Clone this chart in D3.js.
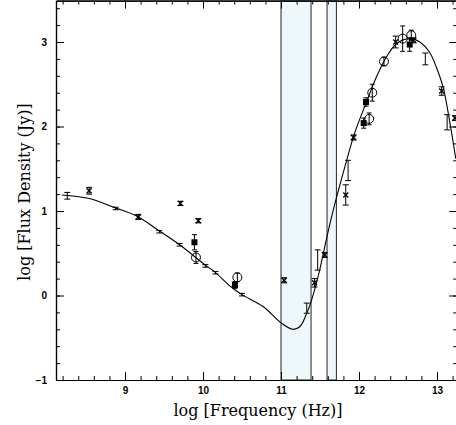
<!DOCTYPE html>
<html>
<head>
<meta charset="utf-8">
<script src="https://d3js.org/d3.v7.min.js"></script>
<style>
body { margin: 0; background: white; }
svg { display: block; }
.tick text { font-family: "Liberation Sans", Arial, sans-serif; font-weight: bold; font-size: 10px; }
.title { font-family: "DejaVu Serif", serif; font-size: 16px; }
</style>
</head>
<body>
<svg id="chart"></svg>
<script>
// model curve
var curveFreq = [8.19, 8.53, 8.87, 9.17, 9.43, 9.70, 10.03, 10.15, 10.35, 10.50, 10.77, 11.01, 11.15, 11.24, 11.33, 11.39,
    11.48, 11.59, 11.67, 11.83, 11.94, 12.10, 12.22, 12.35, 12.48, 12.65, 12.78, 12.91, 13.00, 13.08, 13.17, 13.24];
var curveFlux = [1.19, 1.15, 1.04, 0.93, 0.77, 0.60, 0.36, 0.28, 0.11, 0.01, -0.13, -0.33, -0.40, -0.37, -0.21, -0.06,
    0.24, 0.70, 1.01, 1.56, 1.91, 2.30, 2.58, 2.82, 2.98, 3.04, 3.00, 2.87, 2.68, 2.46, 2.02, 1.62];

// error bars with an x mark
var starFreq = [8.54, 9.17, 9.71, 9.94, 11.04, 11.43, 11.56, 11.83, 11.93, 12.47, 12.70, 13.06, 13.23];
var starFlux = [1.24, 0.93, 1.09, 0.885, 0.18, 0.15, 0.48, 1.19, 1.87, 3.00, 3.02, 2.42, 2.10];
var starErr = [0.04, 0.03, 0.025, 0.025, 0.03, 0.05, 0.03, 0.12, 0.03, 0.07, 0.03, 0.05, 0.03];

// small bars sitting on the curve
var tickFreq = [8.26, 8.88, 9.44, 9.70, 10.03, 10.16, 10.50];
var tickFlux = [1.18, 1.03, 0.755, 0.60, 0.35, 0.27, 0.01];
var tickErr = [0.04, 0.015, 0.015, 0.015, 0.015, 0.015, 0.015];

// plain error bars
var barFreq = [11.33, 11.47, 11.86, 12.85, 13.13];
var barFlux = [-0.15, 0.42, 1.48, 2.80, 2.05];
var barErr = [0.06, 0.12, 0.12, 0.07, 0.09];

// filled squares
var squareFreq = [9.89, 10.41, 12.06, 12.09, 12.65];
var squareFlux = [0.63, 0.125, 2.04, 2.29, 2.97];
var squareErr = [0.09, 0.04, 0.06, 0.05, 0.08];

// open circles
var circleFreq = [9.91, 10.44, 12.13, 12.17, 12.32, 12.56, 12.67];
var circleFlux = [0.45, 0.215, 2.09, 2.40, 2.77, 3.04, 3.08];
var circleErr = [0.07, 0.05, 0.07, 0.10, 0.05, 0.15, 0.06];

// shaded frequency windows
var bandStart = [11.0, 11.59];
var bandEnd = [11.385, 11.71];

var xMajor = [9, 10, 11, 12, 13];
var yMajor = [-1, 0, 1, 2, 3];

var width = 456,
    height = 425,
    plotLeft = 56,
    plotRight = 457.2,
    plotTop = 0.6,
    plotBottom = 380;

var svg = d3.select('svg#chart')
    .attr('width', width)
    .attr('height', height);

var x = d3.scaleLinear().domain([8.115, 13.259]).range([plotLeft, plotRight]);
var y = d3.scaleLinear().domain([-1, 3.49]).range([plotBottom, plotTop]);

var xMinor = d3.range(8.2, 13.3, 0.2).map(function (v) { return +v.toFixed(1); });
var yMinor = d3.range(-1, 3.5, 0.2).map(function (v) { return +v.toFixed(1); });

svg.append('clipPath').attr('id', 'plotClip')
    .append('rect')
    .attr('x', plotLeft).attr('y', plotTop)
    .attr('width', plotRight - plotLeft).attr('height', plotBottom - plotTop);

var plot = svg.append('g').attr('clip-path', 'url(#plotClip)');

plot.selectAll('rect.band')
    .data(bandStart)
    .enter().append('rect')
    .attr('class', 'band')
    .attr('x', function (d) { return x(d); })
    .attr('y', plotTop)
    .attr('width', function (d, i) { return x(bandEnd[i]) - x(d); })
    .attr('height', plotBottom - plotTop)
    .attr('fill', '#eef8fa')
    .attr('stroke', '#222')
    .attr('stroke-width', 1);

var line = d3.line()
    .x(function (d, i) { return x(curveFreq[i]); })
    .y(function (d) { return y(d); })
    .curve(d3.curveCatmullRom);

plot.append('path')
    .attr('d', line(curveFlux))
    .attr('fill', 'none')
    .attr('stroke', 'black')
    .attr('stroke-width', 1.1);

function errorBars(freq, flux, err, capHalf) {
    var g = plot.append('g').attr('stroke', 'black').attr('stroke-width', 1);
    freq.forEach(function (f, i) {
        var cx = x(f), y0 = y(flux[i] - err[i]), y1 = y(flux[i] + err[i]);
        g.append('line').attr('x1', cx).attr('x2', cx).attr('y1', y0).attr('y2', y1);
        g.append('line').attr('x1', cx - capHalf).attr('x2', cx + capHalf).attr('y1', y0).attr('y2', y0);
        g.append('line').attr('x1', cx - capHalf).attr('x2', cx + capHalf).attr('y1', y1).attr('y2', y1);
    });
    return g;
}

var starG = errorBars(starFreq, starFlux, starErr, 3);
starFreq.forEach(function (f, i) {
    var cx = x(f), cy = y(starFlux[i]);
    starG.append('path')
        .attr('d', 'M' + (cx - 2.5) + ',' + (cy - 2.5) + 'L' + (cx + 2.5) + ',' + (cy + 2.5) +
            'M' + (cx - 2.5) + ',' + (cy + 2.5) + 'L' + (cx + 2.5) + ',' + (cy - 2.5))
        .attr('stroke-width', 1.3);
});

errorBars(tickFreq, tickFlux, tickErr, 3);
errorBars(barFreq, barFlux, barErr, 3);

errorBars(squareFreq, squareFlux, squareErr, 2.5);
plot.selectAll('rect.square')
    .data(squareFreq)
    .enter().append('rect')
    .attr('class', 'square')
    .attr('x', function (d) { return x(d) - 3; })
    .attr('y', function (d, i) { return y(squareFlux[i]) - 3; })
    .attr('width', 6)
    .attr('height', 6)
    .attr('fill', 'black');

errorBars(circleFreq, circleFlux, circleErr, 2.5);
plot.selectAll('circle.open')
    .data(circleFreq)
    .enter().append('circle')
    .attr('class', 'open')
    .attr('cx', function (d) { return x(d); })
    .attr('cy', function (d, i) { return y(circleFlux[i]); })
    .attr('r', 4.5)
    .attr('fill', 'none')
    .attr('stroke', 'black')
    .attr('stroke-width', 1);

// axes, ticks pointing inwards
function drawAxis(axisFn, pos, ticks, size, labels) {
    var horiz = axisFn === d3.axisBottom || axisFn === d3.axisTop;
    var a = axisFn(horiz ? x : y)
        .tickValues(ticks)
        .tickSizeInner(-size)
        .tickSizeOuter(0)
        .tickPadding(labels ? 7 : 0)
        .tickFormat(labels ? d3.format('d') : '');
    var g = svg.append('g').attr('transform', pos).call(a);
    g.selectAll('line').attr('stroke', 'black');
    g.select('.domain').attr('stroke', 'black').attr('stroke-width', 1.2);
    g.selectAll('text').attr('fill', 'black');
    return g;
}

drawAxis(d3.axisBottom, 'translate(0,' + plotBottom + ')', xMinor, 4, false);
drawAxis(d3.axisBottom, 'translate(0,' + plotBottom + ')', xMajor, 8, true);
drawAxis(d3.axisTop, 'translate(0,' + plotTop + ')', xMinor, 4, false);
drawAxis(d3.axisTop, 'translate(0,' + plotTop + ')', xMajor, 8, false);
drawAxis(d3.axisLeft, 'translate(' + plotLeft + ',0)', yMinor, 4, false);
drawAxis(d3.axisLeft, 'translate(' + plotLeft + ',0)', yMajor, 8, true)
    .selectAll('text').attr('dx', '-2');
drawAxis(d3.axisRight, 'translate(' + plotRight + ',0)', yMinor, 4, false);
drawAxis(d3.axisRight, 'translate(' + plotRight + ',0)', yMajor, 8, false);

svg.append('text')
    .attr('class', 'title')
    .attr('x', 258)
    .attr('y', 416)
    .attr('text-anchor', 'middle')
    .text('log [Frequency (Hz)]');

svg.append('text')
    .attr('class', 'title')
    .attr('transform', 'translate(30,192) rotate(-90)')
    .attr('text-anchor', 'middle')
    .text('log [Flux Density (Jy)]');
</script>
</body>
</html>
